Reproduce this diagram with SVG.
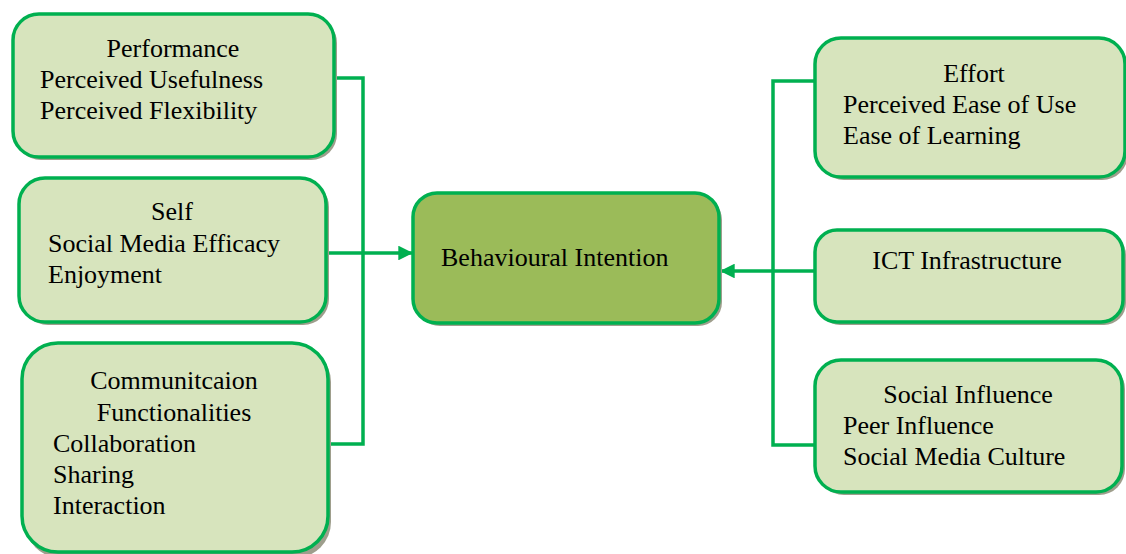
<svg xmlns="http://www.w3.org/2000/svg" width="1126" height="554" viewBox="0 0 1126 554">
<defs>
<marker id="ah" viewBox="0 0 10 10" refX="10" refY="5" markerWidth="4.2" markerHeight="4.2" orient="auto" markerUnits="strokeWidth">
<path d="M0,0 L10,5 L0,10 z" fill="#00b050"/>
</marker>
</defs>
<rect width="1126" height="554" fill="#fff"/>
<g id="connectors" stroke="#00b050" stroke-width="3.5" fill="none">
<polyline points="334,78 363,78 363,444 328,444"/>
<line x1="326" y1="253" x2="413" y2="253" marker-end="url(#ah)"/>
<polyline points="815,81 773,81 773,445 815,445"/>
<line x1="815" y1="271" x2="720" y2="271" marker-end="url(#ah)"/>
</g>
<g id="performance">
<rect x="15" y="17" width="322" height="143" rx="26" fill="#9e9e8c"/>
<rect x="13" y="14" width="321" height="143" rx="26" fill="#d7e4bd" stroke="#00b050" stroke-width="3.5"/>
<text x="173" y="57" text-anchor="middle" font-family="Times New Roman, Liberation Serif, serif" font-size="26">Performance</text>
<text x="40" y="88" font-family="Times New Roman, Liberation Serif, serif" font-size="26">Perceived Usefulness</text>
<text x="40" y="119" font-family="Times New Roman, Liberation Serif, serif" font-size="26">Perceived Flexibility</text>
</g>
<g id="self">
<rect x="22" y="181" width="307" height="144" rx="26" fill="#9e9e8c"/>
<rect x="19" y="178" width="307" height="144" rx="26" fill="#d7e4bd" stroke="#00b050" stroke-width="3.5"/>
<text x="172" y="220" text-anchor="middle" font-family="Times New Roman, Liberation Serif, serif" font-size="26">Self</text>
<text x="48" y="252" font-family="Times New Roman, Liberation Serif, serif" font-size="26">Social Media Efficacy</text>
<text x="48" y="283" font-family="Times New Roman, Liberation Serif, serif" font-size="26">Enjoyment</text>
</g>
<g id="communication">
<rect x="25" y="346" width="306" height="212" rx="36" fill="#9e9e8c"/>
<rect x="22" y="343" width="306" height="209" rx="36" fill="#d7e4bd" stroke="#00b050" stroke-width="3.5"/>
<text x="174" y="389" text-anchor="middle" font-family="Times New Roman, Liberation Serif, serif" font-size="26">Communitcaion</text>
<text x="174" y="421" text-anchor="middle" font-family="Times New Roman, Liberation Serif, serif" font-size="26">Functionalities</text>
<text x="53" y="452" font-family="Times New Roman, Liberation Serif, serif" font-size="26">Collaboration</text>
<text x="53" y="483" font-family="Times New Roman, Liberation Serif, serif" font-size="26">Sharing</text>
<text x="53" y="514" font-family="Times New Roman, Liberation Serif, serif" font-size="26">Interaction</text>
</g>
<g id="behavioural">
<rect x="416" y="196" width="306" height="130" rx="24" fill="#9e9e8c"/>
<rect x="413" y="193" width="306" height="130" rx="24" fill="#9bbb59" stroke="#00b050" stroke-width="3.5"/>
<text x="441" y="266" font-family="Times New Roman, Liberation Serif, serif" font-size="26">Behavioural Intention</text>
</g>
<g id="effort">
<rect x="818" y="41" width="310" height="139" rx="26" fill="#9e9e8c"/>
<rect x="815" y="38" width="310" height="139" rx="26" fill="#d7e4bd" stroke="#00b050" stroke-width="3.5"/>
<text x="974" y="82" text-anchor="middle" font-family="Times New Roman, Liberation Serif, serif" font-size="26">Effort</text>
<text x="843" y="113" font-family="Times New Roman, Liberation Serif, serif" font-size="26">Perceived Ease of Use</text>
<text x="843" y="144" font-family="Times New Roman, Liberation Serif, serif" font-size="26">Ease of Learning</text>
</g>
<g id="ict">
<rect x="818" y="233" width="308" height="92" rx="22" fill="#9e9e8c"/>
<rect x="815" y="230" width="308" height="92" rx="22" fill="#d7e4bd" stroke="#00b050" stroke-width="3.5"/>
<text x="967" y="269" text-anchor="middle" font-family="Times New Roman, Liberation Serif, serif" font-size="26">ICT Infrastructure</text>
</g>
<g id="social">
<rect x="818" y="363" width="307" height="132" rx="26" fill="#9e9e8c"/>
<rect x="815" y="360" width="307" height="132" rx="26" fill="#d7e4bd" stroke="#00b050" stroke-width="3.5"/>
<text x="968" y="403" text-anchor="middle" font-family="Times New Roman, Liberation Serif, serif" font-size="26">Social Influence</text>
<text x="843" y="434" font-family="Times New Roman, Liberation Serif, serif" font-size="26">Peer Influence</text>
<text x="843" y="465" font-family="Times New Roman, Liberation Serif, serif" font-size="26">Social Media Culture</text>
</g>
</svg>
